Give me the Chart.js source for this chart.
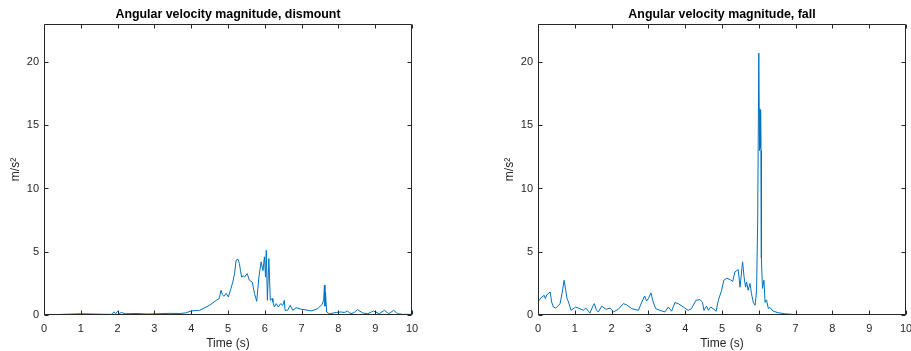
<!DOCTYPE html>
<html>
<head>
<meta charset="utf-8">
<title>Angular velocity magnitude</title>
<script src="https://cdn.jsdelivr.net/npm/chart.js@4"></script>
<style>
  html, body { margin: 0; padding: 0; background: #fff; }
  #wrap { position: relative; width: 911px; height: 351px; overflow: hidden; }
  canvas { position: absolute; top: 0; }
  #dismountChart { left: 0; }
  #fallChart { left: 494px; }
</style>
</head>
<body>
<div id="wrap">
  <canvas id="dismountChart" width="420" height="351"></canvas>
  <canvas id="fallChart" width="417" height="351"></canvas>
</div>
<script>
// --- Data (time in s, magnitude) ---
const timeDismount = [
  0, 0.4, 0.8, 1.0, 1.3, 1.6, 1.85, 1.9, 1.95, 2.0, 2.05, 2.1, 2.2, 2.5, 2.8, 3.1, 3.4, 3.7, 3.85, 4.0,
  4.23, 4.5, 4.68, 4.76, 4.81, 4.85, 4.89, 4.95, 5.01, 5.07, 5.13, 5.18, 5.22, 5.27, 5.31, 5.34, 5.37, 5.41, 5.45, 5.52,
  5.58, 5.66, 5.72, 5.78, 5.84, 5.9, 5.95, 5.99, 6.02, 6.04, 6.07, 6.11, 6.15, 6.2, 6.22, 6.26, 6.31, 6.37, 6.43, 6.49,
  6.53, 6.55, 6.62, 6.69, 6.76, 6.85, 6.99, 7.12, 7.26, 7.44, 7.56, 7.6, 7.62, 7.635, 7.65, 7.68, 7.75, 7.94, 8.07, 8.16,
  8.25, 8.34, 8.43, 8.52, 8.66, 8.8, 8.95, 9.11, 9.25, 9.37, 9.5, 9.61, 9.74, 9.93, 10
];
const angVelDismount = [
  0.03, 0.04, 0.08, 0.1, 0.08, 0.06, 0.05, 0.25, 0.1, 0.3, 0.12, 0.2, 0.1, 0.12, 0.08, 0.1, 0.13, 0.12, 0.17, 0.32,
  0.37, 0.77, 1.16, 1.3, 1.95, 1.6, 1.48, 1.7, 1.43, 2.0, 2.6, 3.3, 4.33, 4.4, 4.07, 3.5, 3.0, 3.1, 3.0, 3.27,
  2.75, 2.6, 1.7, 1.08, 3.0, 4.2, 3.5, 4.6, 3.0, 5.12, 1.16, 4.46, 1.16, 1.3, 1.03, 0.63, 0.9, 0.63, 0.9, 0.77,
  1.16, 0.37, 0.37, 0.77, 0.37, 0.58, 0.45, 0.4, 0.32, 0.5, 0.85, 1.2, 2.35, 0.7, 1.82, 0.24, 0.1, 0.2, 0.24, 0.2,
  0.3, 0.1, 0.2, 0.43, 0.16, 0.1, 0.32, 0.1, 0.37, 0.1, 0.37, 0.1, 0.05, 0.05, 0.05
];

const timeFall = [
  0, 0.1, 0.17, 0.2, 0.24, 0.33, 0.37, 0.42, 0.48, 0.54, 0.6, 0.66, 0.71, 0.75, 0.79, 0.82, 0.9, 1.02, 1.14, 1.23,
  1.3, 1.37, 1.41, 1.49, 1.53, 1.59, 1.64, 1.73, 1.85, 1.96, 2.05, 2.18, 2.32, 2.41, 2.55, 2.73, 2.82, 2.9, 2.95, 3.0,
  3.07, 3.13, 3.2, 3.31, 3.45, 3.54, 3.63, 3.72, 3.81, 3.95, 4.08, 4.17, 4.29, 4.4, 4.47, 4.51, 4.58, 4.63, 4.69, 4.76,
  4.84, 4.9, 4.99, 5.05, 5.13, 5.22, 5.29, 5.35, 5.44, 5.49, 5.54, 5.56, 5.6, 5.64, 5.67, 5.71, 5.76, 5.8, 5.85, 5.9,
  5.94, 5.97, 6.0, 6.02, 6.03, 6.04, 6.05, 6.06, 6.07, 6.1, 6.14, 6.17, 6.21, 6.26, 6.3, 6.39, 6.53, 6.7, 6.9, 7.2,
  8, 9, 10
];
const angVelFall = [
  1.05, 1.42, 1.55, 1.3, 1.6, 1.82, 1.03, 0.63, 0.55, 0.7, 0.9, 1.82, 2.75, 2.0, 1.3, 1.1, 0.37, 0.63, 0.5, 0.37,
  0.55, 0.3, 0.15, 0.7, 0.9, 0.37, 0.24, 0.7, 0.45, 0.55, 0.24, 0.45, 0.9, 0.8, 0.5, 0.37, 1.03, 1.5, 1.1, 1.3,
  1.75, 1.03, 0.5, 0.37, 0.24, 0.63, 0.3, 0.98, 0.9, 0.63, 0.37, 0.5, 1.16, 1.22, 1.0, 0.37, 0.7, 0.37, 0.63, 0.5,
  0.3, 1.16, 1.95, 2.75, 2.9, 2.8, 2.65, 3.4, 3.6, 2.2, 3.67, 4.2, 3.0, 2.2, 2.6, 1.95, 2.5, 1.7, 1.0, 0.77,
  1.95, 7.5, 20.7, 13.0, 16.3, 13.2, 16.2, 13.0, 4.5, 2.1, 2.75, 1.0, 1.2, 0.5, 0.6, 0.3, 0.18, 0.1, 0.05, 0.02,
  0.01, 0.01, 0.01
];

const xTickValues = [0, 1, 2, 3, 4, 5, 6, 7, 8, 9, 10];
const yTickValues = [0, 5, 10, 15, 20];
const yMax = 23;

const FONT = '"Liberation Sans", Arial, Helvetica, sans-serif';
const AXIS_COLOR = '#262626';
const LINE_COLOR = '#0072BD';

// box around the axes with inward tick marks on all four sides
const boxTicks = {
  id: 'boxTicks',
  afterDraw(chart) {
    const { ctx, chartArea: a, scales } = chart;
    const len = 4;
    const L = Math.round(a.left) + 0.5, R = Math.round(a.right) - 0.5;
    const T = Math.round(a.top) + 0.5, B = Math.round(a.bottom) - 0.5;
    ctx.save();
    ctx.strokeStyle = AXIS_COLOR;
    ctx.lineWidth = 1;
    ctx.beginPath();
    ctx.rect(L, T, R - L, B - T);
    scales.x.ticks.forEach(t => {
      const px = Math.round(scales.x.getPixelForValue(t.value)) + 0.5;
      ctx.moveTo(px, B); ctx.lineTo(px, B - len);
      ctx.moveTo(px, T); ctx.lineTo(px, T + len);
    });
    scales.y.ticks.forEach(t => {
      const py = Math.round(scales.y.getPixelForValue(t.value)) + 0.5;
      ctx.moveTo(L, py); ctx.lineTo(L + len, py);
      ctx.moveTo(R, py); ctx.lineTo(R - len, py);
    });
    ctx.stroke();
    ctx.restore();
  }
};

function makeChart(id, title, times, values, padRight) {
  const points = times.map((t, i) => ({ x: t, y: values[i] }));
  return new Chart(document.getElementById(id), {
    type: 'line',
    data: {
      datasets: [{
        data: points,
        borderColor: LINE_COLOR,
        borderWidth: 1,
        pointRadius: 0,
        tension: 0,
        fill: false
      }]
    },
    options: {
      responsive: false,
      animation: false,
      devicePixelRatio: 1,
      layout: { padding: { left: 0, right: padRight, top: 0, bottom: 0 } },
      plugins: {
        legend: { display: false },
        tooltip: { enabled: false },
        title: {
          display: true,
          text: title,
          fullSize: false,
          color: '#000',
          font: { family: FONT, size: 12.4, weight: 'bold' },
          padding: { top: 7, bottom: 2.1 }
        }
      },
      scales: {
        x: {
          type: 'linear',
          min: 0,
          max: 10,
          afterBuildTicks: s => { s.ticks = xTickValues.map(v => ({ value: v })); },
          // fixed axis height, and let the end labels overhang like the y axis does
          afterFit: s => { s.height = 36; s.paddingLeft = 0; s.paddingRight = 0; },
          grid: { display: false, drawTicks: false },
          border: { display: false },
          ticks: { color: AXIS_COLOR, padding: 7, maxRotation: 0, font: { family: FONT, size: 11 } },
          title: {
            display: true,
            text: 'Time (s)',
            color: AXIS_COLOR,
            font: { family: FONT, size: 12 },
            padding: { top: 0, bottom: 0.5 }
          }
        },
        y: {
          min: 0,
          max: yMax,
          afterBuildTicks: s => { s.ticks = yTickValues.map(v => ({ value: v })); },
          afterFit: s => { s.width = 44; s.paddingTop = 0; s.paddingBottom = 0; },
          grid: { display: false, drawTicks: false },
          border: { display: false },
          ticks: { color: AXIS_COLOR, padding: 5, font: { family: FONT, size: 11 } },
          title: {
            display: true,
            text: 'm/s\u00B2',
            color: AXIS_COLOR,
            font: { family: FONT, size: 12 },
            padding: { top: 8, bottom: 0 }
          }
        }
      }
    },
    plugins: [boxTicks]
  });
}

makeChart('dismountChart', 'Angular velocity magnitude, dismount', timeDismount, angVelDismount, 8);
makeChart('fallChart', 'Angular velocity magnitude, fall', timeFall, angVelFall, 5);
</script>
</body>
</html>
